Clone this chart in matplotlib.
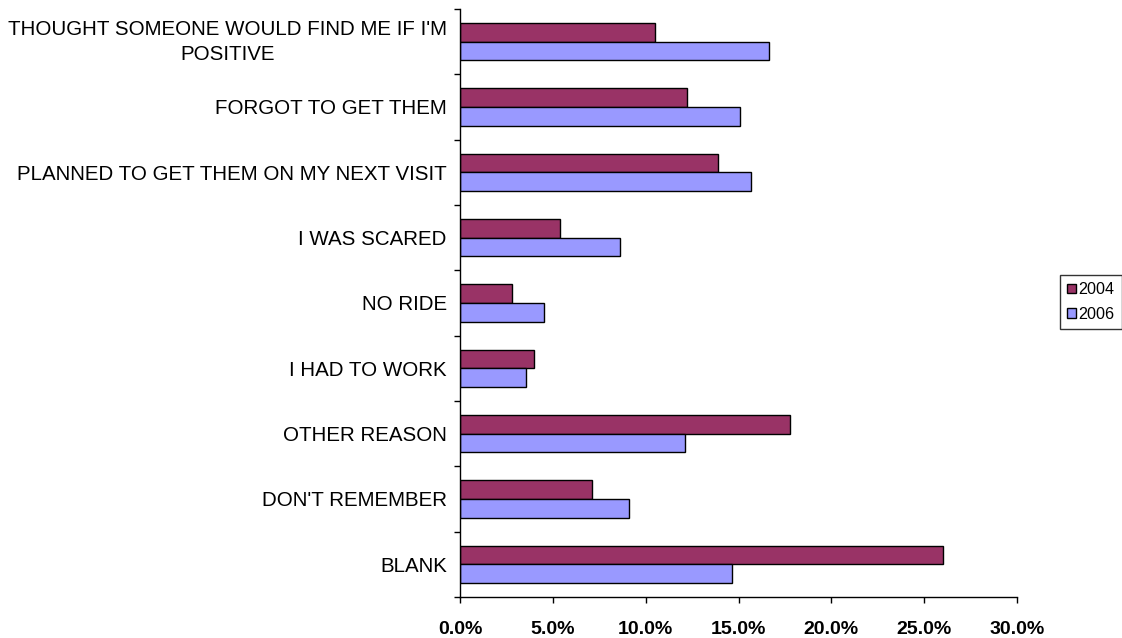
import matplotlib
matplotlib.use("Agg")
import matplotlib.pyplot as plt
import numpy as np
from matplotlib.ticker import FixedLocator, PercentFormatter

categories = [
    "THOUGHT SOMEONE WOULD FIND ME IF I'M\nPOSITIVE",
    "FORGOT TO GET THEM",
    "PLANNED TO GET THEM ON MY NEXT VISIT",
    "I WAS SCARED",
    "NO RIDE",
    "I HAD TO WORK",
    "OTHER REASON",
    "DON'T REMEMBER",
    "BLANK",
]
values_2004 = [10.5, 12.2, 13.9, 5.4, 2.8, 4.0, 17.8, 7.1, 26.0]
values_2006 = [16.65, 15.1, 15.65, 8.6, 4.55, 3.55, 12.1, 9.1, 14.65]
series_names = ["2004", "2006"]
colors = ["#993366", "#9999FF"]
x_ticks = [0, 5, 10, 15, 20, 25, 30]

plt.rcParams['font.family'] = ['Liberation Sans', 'DejaVu Sans']

fig = plt.figure(figsize=(11.22, 6.38), dpi=100)
ax = fig.add_axes([460/1122, 1 - 597/638, (1017-460)/1122, (597-9)/638])

n = len(categories)
y = np.arange(n)  # 0 at top after inversion
bh = 0.286
ax.barh(y - bh/2, values_2004, height=bh, color=colors[0], edgecolor='black', linewidth=1, label=series_names[0])
ax.barh(y + bh/2, values_2006, height=bh, color=colors[1], edgecolor='black', linewidth=1, label=series_names[1])

ax.set_ylim(n - 0.5, -0.5)
ax.set_xlim(0, 30)

# category labels at centres, tick marks at boundaries
ax.yaxis.set_major_locator(FixedLocator(np.arange(n + 1) - 0.5))
ax.yaxis.set_major_formatter(plt.NullFormatter())
ax.set_yticks(y, labels=categories, minor=True)
for lbl in ax.get_yticklabels(minor=True):
    if "\n" in lbl.get_text():
        lbl.set_multialignment('center')
        lbl.set_linespacing(1.42)
        lbl.set_verticalalignment('center')
ax.tick_params(axis='y', which='minor', length=0, pad=9.5, labelsize=14.8)
ax.tick_params(axis='y', which='major', length=4, direction='out', width=1)

ax.set_xticks(x_ticks)
ax.xaxis.set_major_formatter(PercentFormatter(decimals=1))
ax.tick_params(axis='x', length=4, direction='out', width=1, labelsize=14, pad=13)
for lbl in ax.get_xticklabels():
    lbl.set_fontweight('bold')

for s in ['top', 'right']:
    ax.spines[s].set_visible(False)
for s in ['left', 'bottom']:
    ax.spines[s].set_linewidth(1)

leg = fig.legend(loc='center left', bbox_to_anchor=(1060/1122, 1 - 302/638),
                 frameon=True, fancybox=False, edgecolor='black', fontsize=11.6,
                 handlelength=0.55, handleheight=0.55, handletextpad=0.15,
                 borderpad=0.45, labelspacing=0.6, borderaxespad=0)
leg.get_frame().set_linewidth(1)

fig.savefig("out.png", dpi=100)
